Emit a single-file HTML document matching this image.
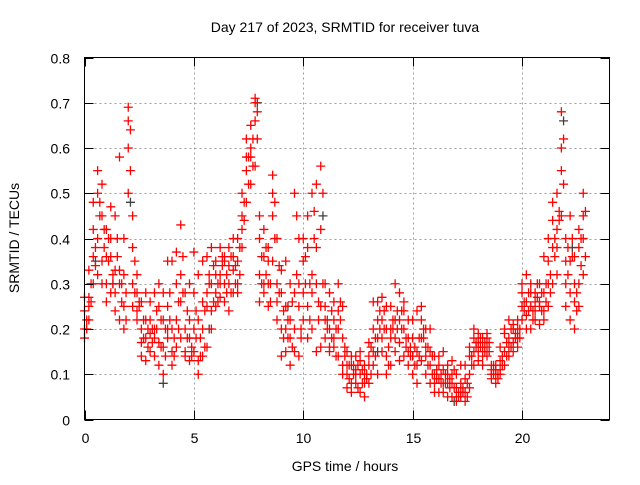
<!DOCTYPE html>
<html><head><meta charset="utf-8"><style>
html,body{margin:0;padding:0;background:#fff;}
svg text{font-family:"Liberation Sans",sans-serif;font-size:14px;fill:#000;}
</style></head><body>
<svg id="chart" width="640" height="480" xmlns="http://www.w3.org/2000/svg">
<text x="345" y="32" text-anchor="middle">Day 217 of 2023, SRMTID for receiver tuva</text>
<g id="grid"></g>
<g id="marks"></g>
<rect x="84.5" y="57.5" width="525" height="362" fill="none" stroke="#000" stroke-width="1"/>
<g id="ticks"></g>
<text x="345" y="471" text-anchor="middle">GPS time / hours</text>
<text transform="translate(19,238) rotate(-90)" text-anchor="middle">SRMTID / TECUs</text>
</svg>
<script>
const hours=[0.0,0.2,0.4,0.6,0.8,1.0,1.2,1.4,1.6,1.8,2.0,2.2,2.4,2.6,2.8,3.0,3.2,3.4,3.6,3.8,4.0,4.2,4.4,4.6,4.8,5.0,5.2,5.4,5.6,5.8,6.0,6.2,6.4,6.6,6.8,7.0,7.2,7.4,7.6,7.8,8.0,8.2,8.4,8.6,8.8,9.0,9.2,9.4,9.6,9.8,10.0,10.2,10.4,10.6,10.8,11.0,11.2,11.4,11.6,11.8,12.0,12.2,12.4,12.6,12.8,13.0,13.2,13.4,13.6,13.8,14.0,14.2,14.4,14.6,14.8,15.0,15.2,15.4,15.6,15.8,16.0,16.2,16.4,16.6,16.8,17.0,17.2,17.4,17.6,17.8,18.0,18.2,18.4,18.6,18.8,19.0,19.2,19.4,19.6,19.8,20.0,20.2,20.4,20.6,20.8,21.0,21.2,21.4,21.6,21.8,22.0,22.2,22.4,22.6,22.8];
const hoursMid=[0.1,0.3,0.5,0.7,0.9,1.1,1.3,1.5,1.7,1.9,2.1,2.3,2.5,2.7,2.9,3.1,3.3,3.5,3.7,3.9,4.1,4.3,4.5,4.7,4.9,5.1,5.3,5.5,5.7,5.9,6.1,6.3,6.5,6.7,6.9,7.1,7.3,7.5,7.7,7.9,8.1,8.3,8.5,8.7,8.9,9.1,9.3,9.5,9.7,9.9,10.1,10.3,10.5,10.7,10.9,11.1,11.3,11.5,11.7,11.9,12.1,12.3,12.5,12.7,12.9,13.1,13.3,13.5,13.7,13.9,14.1,14.3,14.5,14.7,14.9,15.1,15.3,15.5,15.7,15.9,16.1,16.3,16.5,16.7,16.9,17.1,17.3,17.5,17.7,17.9,18.1,18.3,18.5,18.7,18.9,19.1,19.3,19.5,19.7,19.9,20.1,20.3,20.5,20.7,20.9,21.1,21.3,21.5,21.7,21.9,22.1,22.3,22.5,22.7,22.9];
const seriesA=[.18,.22,.30,.40,.45,.30,.36,.28,.33,.25,.66,.30,.22,.20,.13,.15,.18,.25,.10,.20,.15,.30,.43,.14,.22,.15,.10,.20,.25,.30,.28,.32,.35,.30,.28,.35,.45,.55,.60,.70,.40,.28,.35,.50,.30,.20,.15,.30,.50,.25,.40,.25,.50,.30,.56,.25,.20,.16,.30,.12,.10,.08,.14,.06,.12,.14,.20,.26,.15,.10,.18,.22,.28,.20,.15,.10,.15,.22,.20,.12,.08,.12,.06,.10,.13,.05,.08,.04,.10,.15,.15,.18,.16,.10,.08,.10,.15,.18,.20,.16,.22,.26,.25,.28,.30,.24,.30,.38,.42,.60,.40,.35,.30,.25,.45];
const seriesB=[.24,.27,.36,.50,.35,.42,.28,.45,.22,.32,.69,.45,.28,.17,.18,.22,.28,.12,.22,.35,.20,.22,.18,.28,.13,.37,.22,.14,.36,.20,.35,.27,.30,.38,.33,.40,.50,.62,.52,.66,.32,.42,.25,.54,.22,.28,.35,.18,.20,.14,.28,.45,.20,.38,.42,.18,.28,.22,.14,.25,.15,.12,.08,.10,.05,.08,.12,.18,.22,.20,.25,.15,.17,.24,.12,.18,.24,.13,.16,.08,.10,.06,.15,.08,.05,.10,.06,.12,.07,.18,.17,.14,.19,.12,.11,.13,.12,.22,.17,.20,.30,.23,.20,.24,.26,.36,.25,.44,.50,.68,.30,.45,.26,.38,.50];
const seriesC=[.20,.33,.42,.32,.52,.36,.47,.33,.58,.40,.50,.25,.32,.26,.22,.19,.14,.30,.16,.25,.35,.16,.26,.15,.30,.28,.32,.26,.16,.38,.25,.38,.26,.34,.40,.30,.38,.48,.58,.71,.26,.36,.30,.45,.40,.14,.25,.12,.28,.40,.35,.18,.32,.15,.25,.30,.15,.26,.20,.10,.07,.14,.11,.15,.08,.17,.26,.10,.27,.14,.12,.30,.22,.14,.22,.14,.08,.18,.10,.15,.14,.09,.11,.12,.08,.07,.12,.09,.14,.12,.13,.12,.18,.09,.10,.16,.19,.14,.21,.22,.25,.32,.28,.22,.21,.22,.40,.30,.32,.45,.25,.22,.36,.42,.32];
const seriesD=[.27,.25,.48,.55,.30,.26,.40,.24,.30,.20,.60,.38,.24,.14,.28,.26,.20,.17,.28,.18,.12,.37,.32,.20,.18,.20,.13,.35,.28,.24,.32,.30,.36,.24,.36,.28,.42,.58,.65,.56,.45,.30,.38,.35,.26,.33,.20,.22,.15,.30,.22,.38,.28,.52,.16,.22,.16,.18,.24,.18,.12,.06,.10,.13,.10,.12,.15,.22,.18,.25,.20,.18,.13,.26,.18,.22,.12,.25,.14,.20,.06,.14,.08,.05,.10,.04,.05,.06,.16,.20,.19,.16,.14,.11,.12,.11,.20,.16,.15,.18,.28,.20,.30,.26,.25,.28,.35,.48,.38,.55,.35,.28,.20,.30,.40];
const seriesE=[.20,.26,.38,.45,.42,.35,.30,.40,.26,.28,.64,.35,.25,.18,.16,.20,.24,.16,.20,.28,.18,.26,.36,.18,.16,.18,.14,.24,.30,.34,.30,.36,.32,.28,.34,.38,.48,.58,.62,.68,.36,.32,.30,.48,.28,.24,.18,.26,.45,.20,.36,.30,.46,.26,.50,.22,.24,.20,.26,.14,.12,.10,.12,.08,.10,.16,.18,.24,.20,.12,.20,.24,.20,.18,.16,.12,.18,.20,.16,.10,.09,.10,.08,.07,.11,.06,.07,.05,.12,.16,.16,.17,.15,.10,.09,.12,.14,.20,.19,.18,.24,.28,.24,.27,.28,.26,.32,.40,.46,.62,.38,.40,.28,.34,.46];
const seriesF=[.22,.30,.34,.48,.38,.40,.32,.36,.30,.22,.55,.28,.26,.22,.20,.17,.20,.22,.14,.22,.14,.20,.28,.24,.14,.24,.18,.16,.32,.26,.26,.34,.28,.36,.30,.32,.44,.52,.56,.62,.30,.38,.26,.40,.34,.18,.22,.16,.32,.18,.30,.22,.40,.22,.30,.20,.18,.14,.22,.16,.09,.12,.07,.11,.09,.10,.14,.20,.24,.16,.22,.20,.24,.16,.14,.16,.14,.18,.12,.14,.11,.08,.10,.09,.07,.05,.06,.08,.14,.17,.18,.15,.17,.12,.10,.14,.17,.16,.18,.20,.26,.24,.22,.30,.24,.30,.28,.36,.44,.52,.32,.36,.24,.40,.36];
const grayHours=[0.5,1.3,2.1,3.6,5.7,7.9,9.3,10.9,13.4,16.9,21.9,22.3];
const grayValues=[.35,.30,.48,.08,.20,.70,.25,.45,.15,.04,.66,.38];
const xTicks=[0,5,10,15,20];
const yTicks=[0,0.1,0.2,0.3,0.4,0.5,0.6,0.7,0.8];
const yTickLabels=["0","0.1","0.2","0.3","0.4","0.5","0.6","0.7","0.8"];

const NS="http://www.w3.org/2000/svg";
const X0=84.5,X1=609.5,Y0=419.5,Y1=57.5;
function xs(h){return X0+(h/24.0)*(X1-X0);}
function ys(v){return Y0-(v/0.8)*(Y0-Y1);}
function mk(tag,attrs,parent){const e=document.createElementNS(NS,tag);for(const k in attrs)e.setAttribute(k,attrs[k]);parent.appendChild(e);return e;}
const grid=document.getElementById('grid'),ticks=document.getElementById('ticks'),marks=document.getElementById('marks');
yTicks.forEach((v,i)=>{
  const y=Math.round(ys(v))+0.5;
  if(i>0&&i<yTicks.length-1){const g=mk('line',{x1:X0,x2:X1,y1:y,y2:y,stroke:'#a0a0a0','stroke-dasharray':'2,3'},grid);
  
  }
  mk('line',{x1:X0,x2:X0+9,y1:y,y2:y,stroke:'#000'},ticks);
  mk('line',{x1:X1,x2:X1-9,y1:y,y2:y,stroke:'#000'},ticks);
  const t=mk('text',{x:70,y:y+5,'text-anchor':'end'},ticks);t.textContent=yTickLabels[i];
  
  
});
xTicks.forEach(h=>{
  const x=Math.round(xs(h))+0.5;
  if(h>0){const g=mk('line',{x1:x,x2:x,y1:Y0,y2:Y1,stroke:'#a0a0a0','stroke-dasharray':'2,3'},grid);
  
  }
  mk('line',{x1:x,x2:x,y1:Y0,y2:Y0-9,stroke:'#000'},ticks);
  mk('line',{x1:x,x2:x,y1:Y1,y2:Y1+9,stroke:'#000'},ticks);
  const t=mk('text',{x:x,y:443,'text-anchor':'middle'},ticks);t.textContent=String(h);
  
  
});
function plus(h,v,color){
  const x=xs(h),y=ys(v);
  const p=mk('path',{d:`M${x-4.5},${y}H${x+4.5}M${x},${y-4.5}V${y+4.5}`,stroke:color,'stroke-width':1.3,fill:'none'},marks);
  
  
}
grayHours.forEach((h,i)=>plus(h,grayValues[i],'#404040'));
[seriesA,seriesB,seriesC,seriesD].forEach(s=>s.forEach((v,i)=>plus(hours[i],v,'#ff0000')));
[seriesE,seriesF].forEach(s=>s.forEach((v,i)=>plus(hoursMid[i],v,'#ff0000')));
</script>
</body></html>
